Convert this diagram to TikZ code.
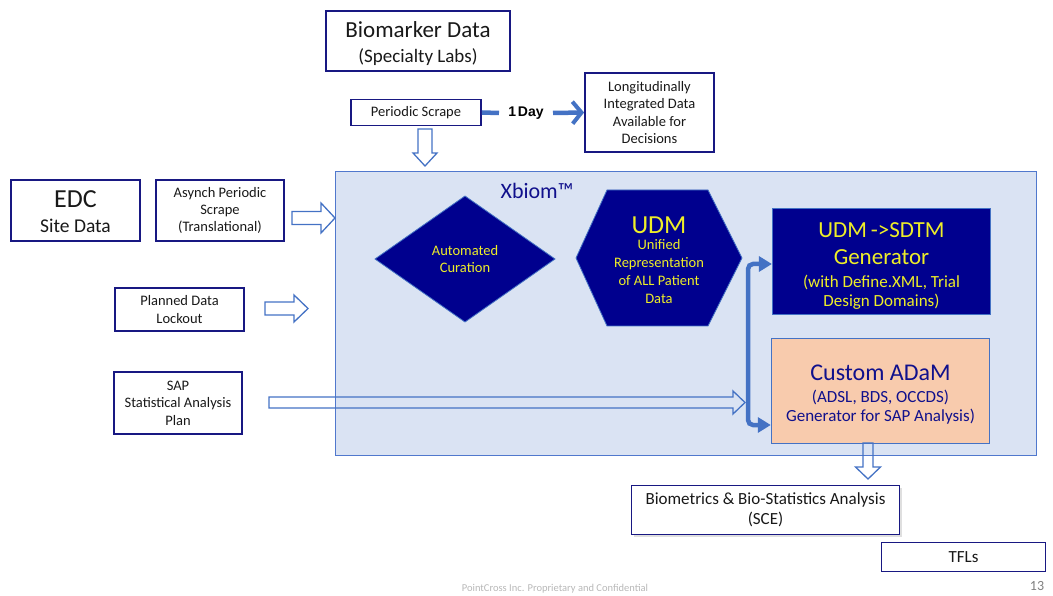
\documentclass[tikz,border=0pt]{standalone}
\usepackage{fontspec}
\setmainfont{Carlito}
\newfontfamily\arialf{Liberation Sans}
\usetikzlibrary{arrows.meta,shadows,calc}
\definecolor{navyfill}{RGB}{0,0,142}
\definecolor{navyline}{RGB}{24,24,130}
\definecolor{navytext}{RGB}{16,16,140}
\definecolor{yel}{RGB}{238,238,40}
\definecolor{xbfill}{RGB}{218,227,243}
\definecolor{xbline}{RGB}{80,120,205}
\definecolor{arrblue}{RGB}{68,114,196}
\definecolor{peach}{RGB}{248,203,173}
\definecolor{txt}{RGB}{25,25,25}
\newcommand\fsz[2]{\fontsize{#1}{#2}\selectfont}
\newcommand\hollowR[6]{% x1 x2 yc shafthalf headhalf headlen
  \draw[hollow] ({#1},{#3-#4}) -- ({#2-#6},{#3-#4}) -- ({#2-#6},{#3-#5}) -- ({#2},{#3})
   -- ({#2-#6},{#3+#5}) -- ({#2-#6},{#3+#4}) -- ({#1},{#3+#4}) -- cycle;}
\newcommand\hollowD[6]{% y1 y2 xc shafthalf headhalf headlen
  \draw[hollow] ({#3-#4},{#1}) -- ({#3-#4},{#2-#6}) -- ({#3-#5},{#2-#6}) -- ({#3},{#2})
   -- ({#3+#5},{#2-#6}) -- ({#3+#4},{#2-#6}) -- ({#3+#4},{#1}) -- cycle;}
\tikzset{
  box/.style={draw=navyline, line width=1.8pt, fill=white, align=center, inner sep=0pt, text=txt, font=\fsz{14.5}{17.4}},
  lbl/.style={inner sep=0pt, anchor=center},
  hollow/.style={draw=arrblue, line width=1.3pt, line join=miter},
  bracketarrow/.style={draw=arrblue, line width=4.5pt, rounded corners=5pt,
    {Triangle[length=13pt,width=15pt]}-{Triangle[length=13pt,width=15pt]}},
}
\begin{document}
\begin{tikzpicture}[x=1pt,y=-1pt]
\useasboundingbox (0,0) rectangle (1053,596);
% Xbiom container
\node[draw=xbline, line width=1.4pt, fill=xbfill, minimum width=701pt, minimum height=284pt, inner sep=0pt] (xb) at (686,313.5) {};
\node[text=navytext, font=\fsz{22}{26}] (xbt) at (537,191) {Xbiom™};
% top
\node[box, minimum width=184pt, minimum height=60pt] (bio) at (418,41) {};
\node[lbl, text=txt, font=\fsz{23}{26}] (bio1) at (418,30) {Biomarker Data};
\node[lbl, text=txt, font=\fsz{19}{22}] (bio2) at (418,57) {(Specialty Labs)};
\node[box, minimum width=130pt, minimum height=26pt] (scrape) at (416,112.5) {Periodic Scrape};
\node[box, minimum width=129pt, minimum height=79pt] (long) at (649.5,112.5) {Longitudinally\\Integrated Data\\Available for\\Decisions};
\coordinate (dayL) at (499,113);
\coordinate (dayR) at (553,113);
\draw[arrblue, line width=4.5pt] (scrape.east) -- (dayL);
\node[font=\arialf\bfseries\fsz{14}{16}, text=black, inner sep=0pt] (day) at (526,113.5) {1\kern-0.5pt\,Day};
\draw[arrblue, line width=4.5pt, -{Straight Barb[length=9pt,width=22pt,line width=4pt]}] (dayR) -- (long.west);
\hollowD{129}{166}{425}{7}{12}{13}
% left
\node[box, minimum width=129pt, minimum height=61pt] (edc) at (75.5,210.5) {};
\node[lbl, text=txt, font=\fsz{26}{28}] (edc1) at (75.5,199) {EDC};
\node[lbl, text=txt, font=\fsz{19.5}{22}] (edc2) at (75.5,226) {Site Data};
\node[box, minimum width=128pt, minimum height=61pt] (async) at (220,210.5) {Asynch Periodic\\Scrape\\(Translational)};
\hollowR{292}{335}{218}{6.5}{15}{14}
\node[box, minimum width=129pt, minimum height=43pt] (plan) at (179.5,309.5) {Planned Data\\Lockout};
\hollowR{265}{308}{308.5}{6.5}{13.5}{14}
\node[box, minimum width=128pt, minimum height=62pt] (sap) at (178,403) {SAP\\Statistical Analysis\\Plan};
\hollowR{269}{745}{402.5}{5.5}{11.5}{12}
% diamond
\draw[draw=arrblue, line width=0.8pt, fill=navyfill] (375,259) -- (465,196) -- (555,259) -- (465,322) -- cycle;
\node[text=yel, align=center, font=\fsz{14.5}{17}] (cur) at (465,259) {Automated\\Curation};
% hexagon
\draw[draw=arrblue, line width=0.8pt, fill=navyfill] (576,258) -- (607,190) -- (708,190) -- (742,258) -- (708,326) -- (607,326) -- cycle;
\node[lbl, text=yel, font=\fsz{26}{28}] (udm1) at (659,225) {UDM};
\node[text=yel, align=center, font=\fsz{14.5}{18}] (udm2) at (659,272) {Unified\\Representation\\of ALL Patient\\Data};
% SDTM & ADaM
\node[draw=arrblue, line width=1.2pt, fill=navyfill, inner sep=0pt, minimum width=218pt, minimum height=106pt] (sdtm) at (881.5,261.5) {};
\node[lbl, text=yel, font=\fsz{23}{26}] (sd1) at (881.5,230) {UDM\,->SDTM};
\node[lbl, text=yel, font=\fsz{23}{26}] (sd2) at (881.5,257) {Generator};
\node[lbl, text=yel, font=\fsz{17}{20}] (sd3) at (881.5,282) {(with Define.XML, Trial};
\node[lbl, text=yel, font=\fsz{17}{20}] (sd4) at (881.5,302) {Design Domains)};
\node[draw=arrblue, line width=1.4pt, fill=peach, inner sep=0pt, minimum width=218pt, minimum height=105pt] (adam) at (880.5,391) {};
\node[lbl, text=navytext, font=\fsz{24}{26}] (ad1) at (880.5,373) {Custom ADaM};
\node[lbl, text=navytext, font=\fsz{17}{20}] (ad2) at (880.5,397) {(ADSL, BDS, OCCDS)};
\node[lbl, text=navytext, font=\fsz{17}{20}] (ad3) at (880.5,417) {Generator for SAP Analysis)};
\coordinate (bt) at (748,264);
\coordinate (bb) at (748,425);
\draw[bracketarrow] (sdtm.west |- bt) -- (bt) -- (bb) -- (adam.west |- bb);
\hollowD{443}{479}{868}{5}{12.5}{12}
% bottom
\node[box, minimum width=268pt, minimum height=49pt, drop shadow={shadow xshift=2pt, shadow yshift=-2pt, opacity=0.25}, font=\fsz{17}{20}] (bms) at (765.5,510) {Biometrics \& Bio-Statistics Analysis\\(SCE)};
\node[box, minimum width=164pt, minimum height=29pt, font=\fsz{17}{20}] (tfl) at (963.5,557) {TFLs};
% footer
\node[text=black!28, font=\fsz{10.5}{12}] (foot) at (555,589) {PointCross Inc. Proprietary and Confidential};
\node[text=black!50, font=\fsz{14}{16}] (pg) at (1037,586) {13};
\end{tikzpicture}
\end{document}
